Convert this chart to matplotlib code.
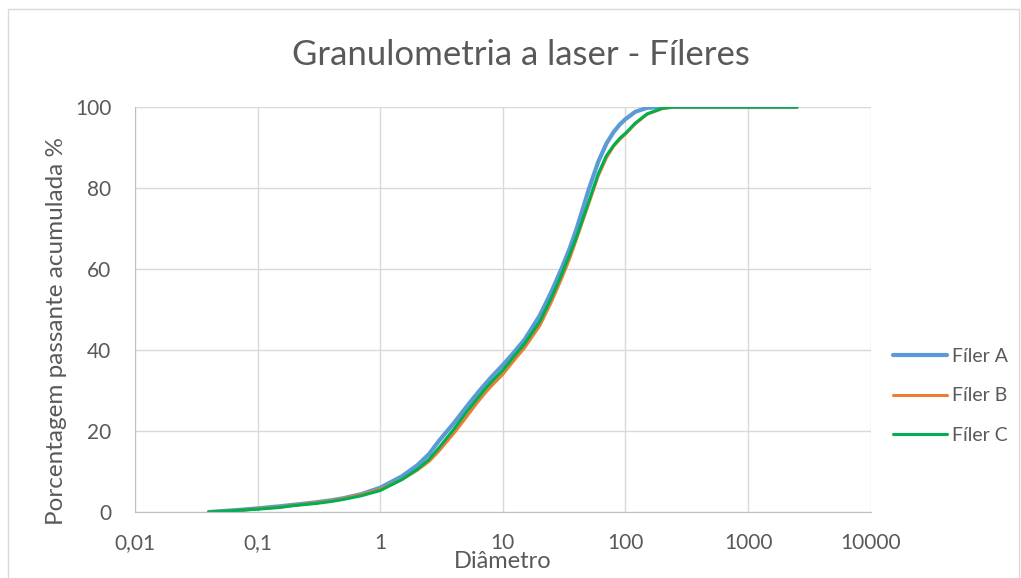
import matplotlib.pyplot as plt
from matplotlib.patches import Rectangle
from matplotlib.ticker import FixedLocator, FixedFormatter, NullLocator

plt.rcParams['font.family'] = ['Lato', 'DejaVu Sans']

# diameters (um) and cumulative passing (%)
diam = [0.04, 0.05, 0.07, 0.1, 0.15, 0.2, 0.3, 0.4, 0.5, 0.7, 1, 1.5, 2, 2.5, 3,
        4, 5, 6, 7, 8, 10, 12, 15, 20, 25, 30, 35, 40, 45, 50, 60, 70, 80, 90,
        100, 120, 150, 200, 250, 400, 800, 1500, 2500]
filer_a = [0, 0.2, 0.5, 0.9, 1.4, 1.8, 2.4, 2.9, 3.4, 4.4, 6.0, 8.8, 11.5, 14.3, 17.5,
           22, 25.8, 28.8, 31.2, 33.2, 36.3, 39, 42.5, 48.5, 54.5, 60, 65, 70, 75, 79.5,
           86.5, 91, 93.8, 95.7, 97, 98.8, 99.8, 100, 100, 100, 100, 100, 100]
filer_b = [0, 0.15, 0.4, 0.8, 1.2, 1.7, 2.3, 2.8, 3.3, 4.3, 5.6, 8.0, 10.3, 12.5, 15,
           19.5, 23.3, 26.5, 29, 31, 34, 37, 40.5, 46, 52, 57.5, 62.5, 67.5, 72, 76,
           83, 87.5, 90.3, 92, 93.3, 95.8, 98.2, 99.6, 100, 100, 100, 100, 100]
filer_c = [0, 0.15, 0.4, 0.7, 1.1, 1.6, 2.1, 2.6, 3.1, 4.0, 5.3, 8.0, 10.5, 13, 15.8,
           20.5, 24.5, 27.5, 30, 32, 35, 38, 41.5, 47, 53, 58.5, 63.5, 68, 72.5, 76.5,
           83.5, 88, 90.5, 92.3, 93.5, 96, 98.3, 99.7, 100, 100, 100, 100, 100]

xticks = [0.01, 0.1, 1, 10, 100, 1000, 10000]
xlabels = ['0,01', '0,1', '1', '10', '100', '1000', '10000']

fig = plt.figure(figsize=(10.21, 5.78), dpi=100)
ax = fig.add_axes([0.1322, 0.1142, 0.7206, 0.7007])

ax.plot(diam, filer_a, color='#5b9bd5', lw=3.0, solid_capstyle='round', label='Fíler A')
ax.plot(diam, filer_b, color='#ed7d31', lw=2.2, solid_capstyle='round', label='Fíler B')
ax.plot(diam, filer_c, color='#00b050', lw=2.2, solid_capstyle='round', label='Fíler C')

ax.set_xscale('log')
ax.set_xlim(0.01, 10000)
ax.set_ylim(0, 100)
ax.xaxis.set_major_locator(FixedLocator(xticks))
ax.xaxis.set_major_formatter(FixedFormatter(xlabels))
ax.xaxis.set_minor_locator(NullLocator())
ax.set_yticks([0, 20, 40, 60, 80, 100])

ax.grid(True, color='#d9d9d9', lw=1.0)
ax.set_axisbelow(True)
for s in ax.spines.values():
    s.set_visible(False)
ax.spines['bottom'].set_visible(True)
ax.spines['left'].set_visible(True)
ax.spines['bottom'].set_color('#bfbfbf')
ax.spines['left'].set_color('#bfbfbf')
ax.tick_params(length=0, labelsize=15, colors='#595959')
ax.tick_params(axis='x', pad=15)
ax.tick_params(axis='y', pad=17)

fig.text(0.4927, 0.028, 'Diâmetro', ha='center', va='center', fontsize=17, color='#595959')
fig.text(0.055, 0.427, 'Porcentagem passante acumulada %', ha='center', va='center',
         rotation=90, fontsize=17.5, color='#595959')
fig.text(0.51, 0.905, 'Granulometria a laser - Fíleres', ha='center', va='center',
         fontsize=25, color='#595959')

fig.legend(loc='center left', bbox_to_anchor=(0.8746, 0.315), frameon=False,
           fontsize=14, labelcolor='#595959', handlelength=2.8, handletextpad=0.25,
           labelspacing=1.15, borderpad=0, borderaxespad=0)

fig.patches.append(Rectangle((0.008, -0.05), 0.99, 1.035, transform=fig.transFigure,
                             fill=False, edgecolor='#d9d9d9', lw=1))

fig.savefig('out.png', dpi=100)
